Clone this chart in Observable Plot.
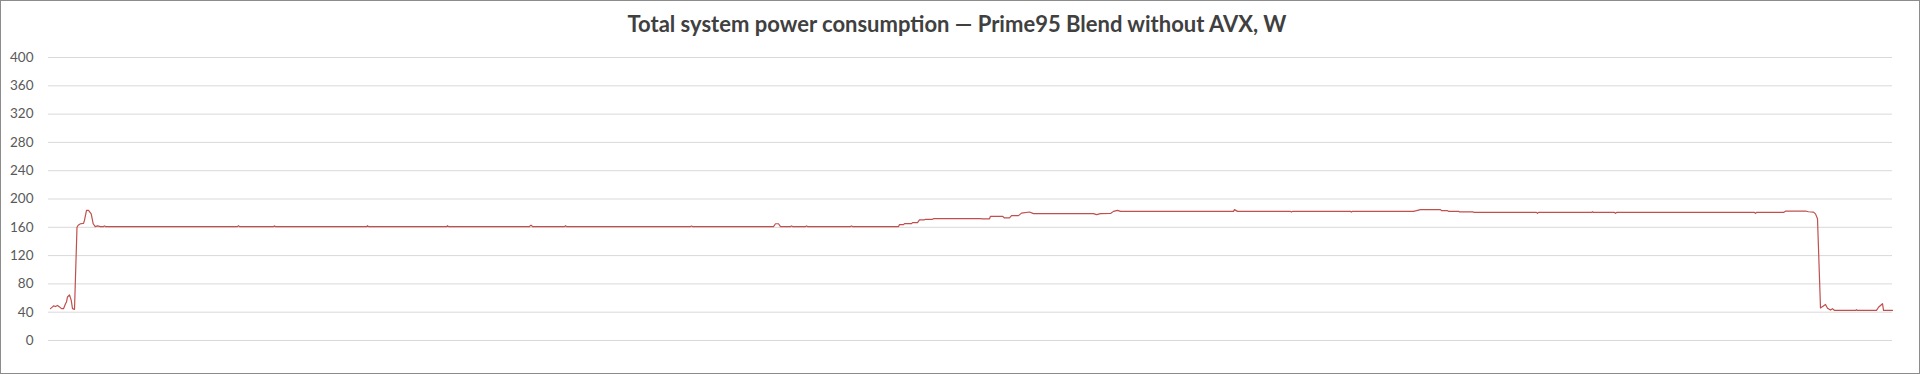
<!DOCTYPE html>
<html>
<head>
<meta charset="utf-8">
<script src="https://cdn.jsdelivr.net/npm/d3@7"></script>
<script src="https://cdn.jsdelivr.net/npm/@observablehq/plot@0.6"></script>
<style>
  html, body { margin: 0; padding: 0; background: #fff; }
  #frame {
    width: 1918px; height: 372px; border: 1px solid #8c8c8c;
    background: #fff; overflow: hidden;
  }
  #title {
    box-sizing: border-box; height: 40px; padding-top: 11px; padding-right: 6px;
    font-family: Lato, "Open Sans", sans-serif; font-weight: bold; font-size: 22px;
    line-height: 24px; color: #404040; text-align: center; white-space: nowrap;
  }
</style>
</head>
<body>
<div id="frame">
  <div id="title">Total system power consumption — Prime95 Blend without AVX, W</div>
  <div id="chart"></div>
</div>
<script>
// Tick labels of the value axis (W)
const yTicks = [0, 40, 80, 120, 160, 200, 240, 280, 320, 360, 400];

// Sample times (s, from start of log) and total system power (W)
const seriesTime = [
  0, 2, 3, 5, 7, 9, 11, 13, 15, 16, 17, 19, 20.7, 22, 24, 26.5, 27.7, 30, 33, 34, 36, 38, 40.7, 42.7, 44.7, 47, 50,
  53, 54, 55, 187, 188, 189, 223, 224, 225, 316, 317, 318, 396, 397, 398, 479, 480, 481, 482, 514, 515, 516,
  640, 641, 642, 723, 725, 728, 730, 740, 741, 742, 755, 756, 757, 800, 801, 802, 848,
  849, 853, 854, 861, 862, 867, 869, 874, 875, 882, 883, 930, 932, 939, 940, 952, 954, 959, 961, 968,
  971, 979, 983, 1043, 1046, 1050, 1060, 1063, 1067, 1070, 1183, 1184, 1187,
  1240, 1241, 1242, 1300, 1301, 1302, 1363, 1366, 1370, 1390, 1391, 1397, 1398, 1408, 1409, 1422,
  1424, 1486, 1487, 1488, 1541, 1542, 1543, 1564, 1565, 1566, 1704, 1705, 1706, 1733,
  1735, 1755, 1758, 1763, 1765, 1767, 1770, 1775, 1777, 1780, 1782, 1784,
  1805, 1806, 1807, 1826, 1828, 1832, 1833, 1842
];
const seriesWatts = [
  45, 47.5, 49, 48, 49.5, 47.5, 45, 45, 52, 54.5, 61.5, 64.5, 57, 45, 44, 160, 163, 165, 165.5, 170, 184, 184, 179, 165, 161, 162, 161,
  161, 162, 161, 161, 162.3, 161, 161, 162, 161, 161, 162.2, 161, 161, 162.2, 161, 161, 162.8, 162.8, 161, 161, 162.2, 161,
  161, 161.8, 161, 161, 165, 165, 161, 161, 162, 161, 161, 162, 161, 161, 162, 161, 161,
  163.8, 163.8, 165.2, 165.2, 166.6, 166.6, 170.6, 170.6, 171.3, 171.3, 172.2, 172.2, 172, 172, 175.5, 175.5, 173.2, 173.2, 176.5, 176.5,
  180, 181.6, 179.3, 179.3, 177.9, 179.3, 179.5, 182.5, 184, 182.5, 182.5, 185, 182.5,
  182.5, 181.5, 182.5, 182.5, 181.6, 182.6, 182.6, 183.5, 185, 185, 183.5, 183.5, 182.6, 182.6, 181.7, 181.7,
  181, 181, 179.6, 181, 181, 182, 181, 181, 179.8, 181, 181, 179.8, 181, 181,
  182.8, 183, 182, 181.5, 179, 172, 46, 51, 45.5, 43, 45, 42.5,
  42.5, 43.5, 42.5, 42.5, 47, 52, 42.5, 42.5
];

const data = seriesTime.map((t, i) => ({t, w: seriesWatts[i]}));

const chart = Plot.plot({
  width: 1918,
  height: 332,
  marginTop: 16,
  marginBottom: 33,
  marginLeft: 47,
  marginRight: 27,
  style: {fontFamily: "Lato, 'Open Sans', sans-serif", fontSize: "13.5px", color: "#595959", background: "transparent"},
  x: {domain: [-2, 1842], axis: null},
  y: {domain: [0, 400], ticks: yTicks},
  marks: [
    Plot.gridY(yTicks, {stroke: "#d9d9d9", strokeOpacity: 1, strokeWidth: 1}),
    Plot.axisY(yTicks, {tickSize: 0, tickPadding: 15, label: null, fill: "#595959"}),
    Plot.line(data, {x: "t", y: "w", stroke: "#c0504d", strokeWidth: 1.2})
  ]
});
document.getElementById("chart").appendChild(chart);
</script>
</body>
</html>
